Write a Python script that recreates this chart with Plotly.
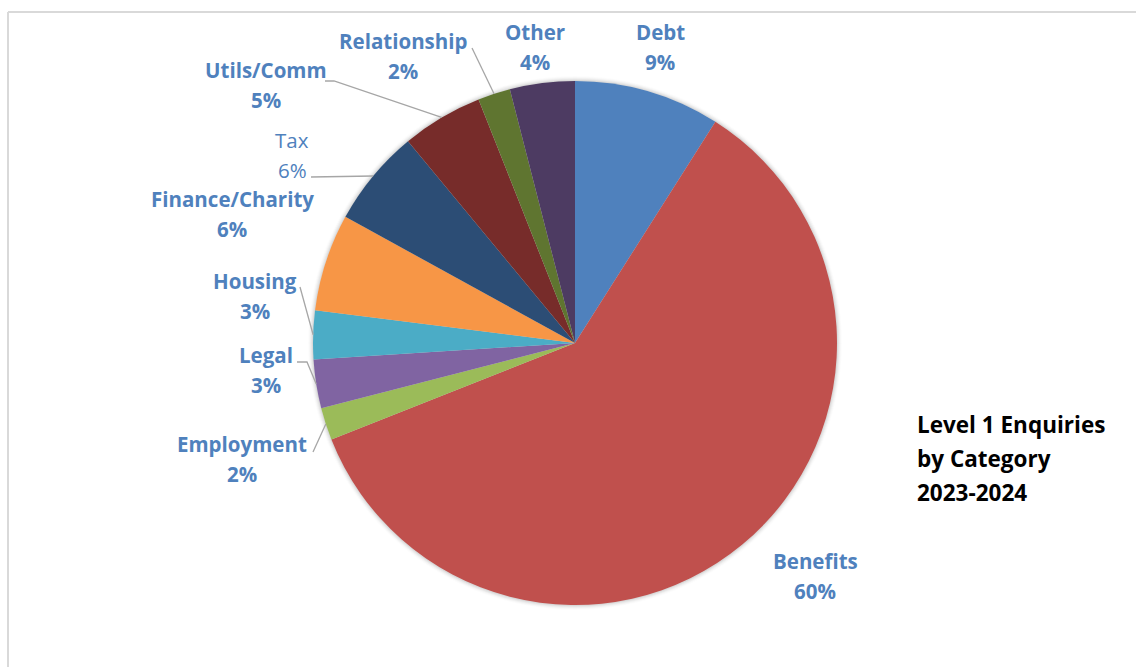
import math
import plotly.graph_objects as go

# Level 1 enquiries, share of total by category (percent)
categories = ["Debt", "Benefits", "Employment", "Legal", "Housing",
              "Finance/Charity", "Tax", "Utils/Comm", "Relationship", "Other"]
shares = [9, 60, 2, 3, 3, 6, 6, 5, 2, 4]

colors = ["#4F81BD", "#C0504D", "#9BBB59", "#8064A2", "#4BACC6",
          "#F79646", "#2C4D75", "#772C2A", "#5F7530", "#4D3B62"]

W, H = 1136, 667
CX, CY, R = 575, 343, 262          # pie centre and radius in pixels

# label block centres (px) and weight
label_anchor = {
    "Debt": (660, 47), "Benefits": (815, 576), "Employment": (242, 459),
    "Legal": (266, 370), "Housing": (255, 296), "Finance/Charity": (232, 214),
    "Tax": (292, 155), "Utils/Comm": (266, 85), "Relationship": (403, 56),
    "Other": (535, 47),
}
plain_labels = {"Tax"}

# leader lines: points on the label side, the slice end is computed
leader_start = {
    "Utils/Comm": [(325, 81), (334, 81)],
    "Relationship": [(472, 48)],
    "Tax": [(311, 177)],
    "Housing": [(300, 287)],
    "Legal": [(297, 362), (307, 362)],
    "Employment": [(313, 452)],
}

LABEL_BLUE = "#4F81BD"
FONT = "'Open Sans', sans-serif"


def px(x):
    return x / W


def py(y):
    return 1 - y / H


fig = go.Figure(go.Pie(
    labels=categories, values=shares, sort=False, direction="clockwise",
    rotation=0, marker=dict(colors=colors, line=dict(width=0)),
    textinfo="none", hoverinfo="label+percent", showlegend=False,
    domain=dict(x=[px(CX - R), px(CX + R)], y=[py(CY + R), py(CY - R)]),
))

shapes = []

# soft glow round the pie
for i, a in enumerate([0.05, 0.04, 0.03, 0.02, 0.012]):
    d = i + 1
    shapes.append(dict(type="circle", xref="paper", yref="paper", layer="below",
                       x0=px(CX - R - d), x1=px(CX + R + d),
                       y0=py(CY + R + d), y1=py(CY - R - d),
                       fillcolor=f"rgba(0,0,0,{a})", line=dict(width=0)))

# chart frame (top and left edges)
shapes.append(dict(type="line", xref="paper", yref="paper",
                   x0=px(8), x1=1.01, y0=py(12), y1=py(12),
                   line=dict(color="#D9D9D9", width=2)))
shapes.append(dict(type="line", xref="paper", yref="paper",
                   x0=px(8), x1=px(8), y0=py(12), y1=-0.01,
                   line=dict(color="#D9D9D9", width=2)))

# mid angle of each slice, clockwise from 12 o'clock
total = sum(shares)
mid_angle = {}
acc = 0.0
for name, v in zip(categories, shares):
    mid_angle[name] = (acc + v / 2) / total * 2 * math.pi
    acc += v

for name, pts in leader_start.items():
    a = mid_angle[name]
    end = (CX + R * math.sin(a), CY - R * math.cos(a))
    path_pts = pts + [end]
    path = "M " + " L ".join(f"{px(x)},{py(y)}" for x, y in path_pts)
    shapes.append(dict(type="path", xref="paper", yref="paper", path=path,
                       line=dict(color="#A6A6A6", width=1.3)))

annotations = []
for name, v in zip(categories, shares):
    x, y = label_anchor[name]
    bold = name not in plain_labels
    for text, dy in ((name, -15), (f"{v}%", 15)):
        annotations.append(dict(
            x=px(x), y=py(y + dy), xref="paper", yref="paper",
            text=f"<b>{text}</b>" if bold else text, showarrow=False,
            xanchor="center", yanchor="middle",
            font=dict(family=FONT, size=20.5, color=LABEL_BLUE)))

for i, line in enumerate(["Level 1 Enquiries", "by Category", "2023-2024"]):
    annotations.append(dict(
        x=px(915), y=py(425 + 34 * i), xref="paper", yref="paper",
        text=f"<b>{line}</b>", showarrow=False, xanchor="left",
        yanchor="middle", font=dict(family=FONT, size=22.5, color="#000000")))

fig.update_layout(
    width=W, height=H, margin=dict(l=0, r=0, t=0, b=0),
    paper_bgcolor="white", plot_bgcolor="white",
    shapes=shapes, annotations=annotations,
)

fig.write_html("out.html")
